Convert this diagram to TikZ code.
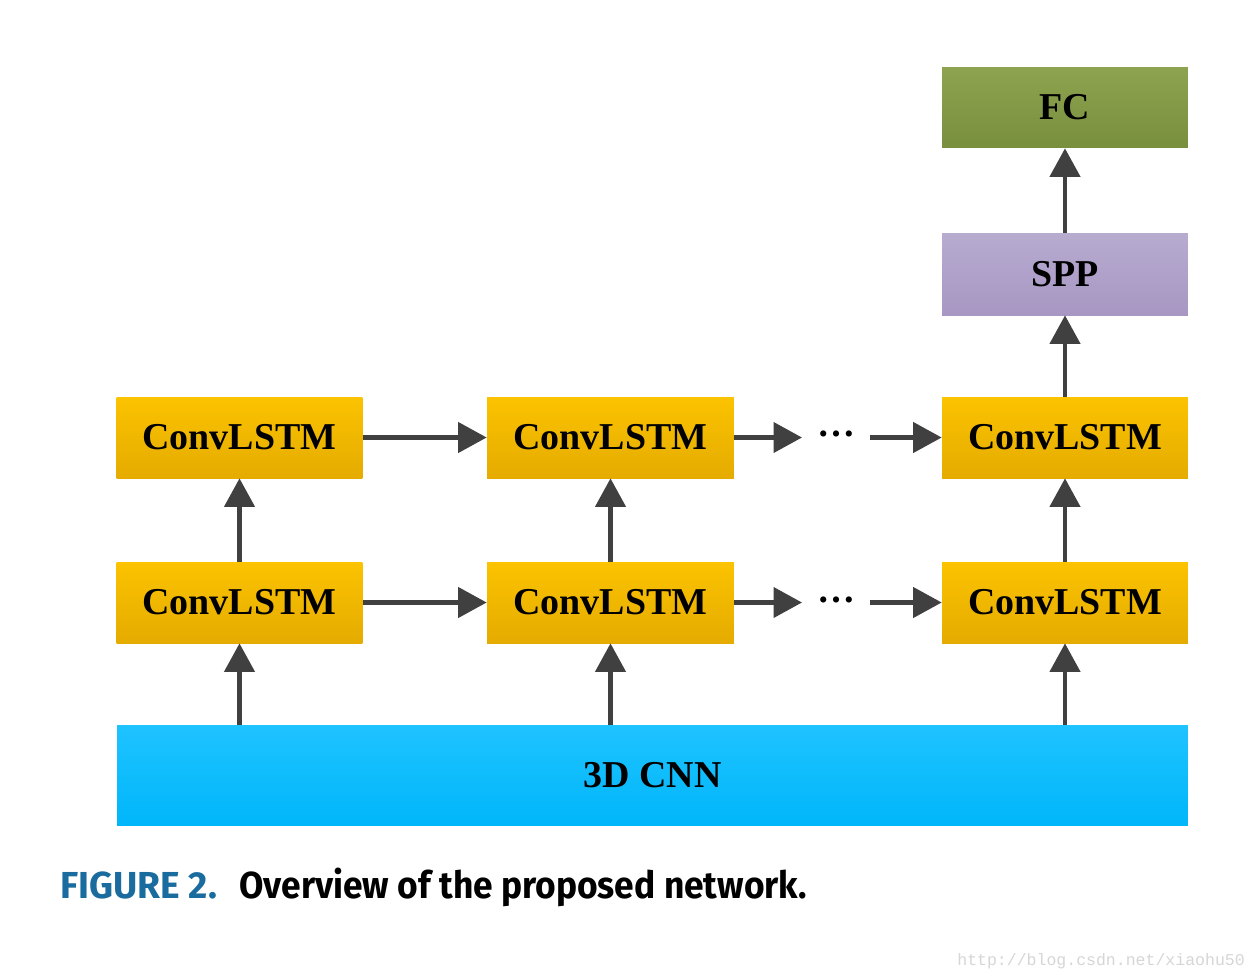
\documentclass[tikz,border=0pt]{standalone}
\usepackage{fontspec}
\setmainfont{Liberation Serif}
\newfontfamily\capfont{Fira Sans}
\newfontfamily\wmfont{Liberation Mono}
\usetikzlibrary{arrows.meta}
\definecolor{arrcol}{HTML}{404040}
\definecolor{lstmtop}{HTML}{FBC300}
\definecolor{lstmbot}{HTML}{E5AB00}
\definecolor{cnntop}{HTML}{1EC3FF}
\definecolor{cnnbot}{HTML}{00B6FA}
\definecolor{fctop}{HTML}{8EA34F}
\definecolor{fcbot}{HTML}{788F3E}
\definecolor{spptop}{HTML}{B7ABD0}
\definecolor{sppbot}{HTML}{A797C2}
\definecolor{capblue}{HTML}{1B6C9E}
\tikzset{
  blockbox/.style={draw=none, inner sep=0pt, minimum height=1.62cm, minimum width=4.92cm,
    font=\fontsize{21.6}{26}\selectfont\bfseries, text=black},
  lstm/.style={blockbox, top color=lstmtop, bottom color=lstmbot},
  arr/.style={draw=arrcol, line width=2.4pt, -{Triangle[length=0.57cm,width=0.6cm]}},
  dotsnode/.style={inner sep=0pt, anchor=base, font=\fontsize{21.6}{26}\selectfont\bfseries}
}
\begin{document}
\begin{tikzpicture}[x=0.02cm, y=-0.02cm]
\useasboundingbox[fill=white] (0,0) rectangle (1258,978);
% top blocks
\node[blockbox, top color=fctop, bottom color=fcbot, minimum height=1.62cm] (fc) at (1065,107.5) {FC};
\node[blockbox, top color=spptop, bottom color=sppbot, minimum height=1.64cm] (spp) at (1065,274) {SPP};
% ConvLSTM rows
\node[lstm] (a1) at (239.5,437.5) {ConvLSTM};
\node[lstm, minimum width=4.94cm] (a2) at (610.5,437.5) {ConvLSTM};
\node[lstm] (a3) at (1065,437.5) {ConvLSTM};
\node[lstm] (b1) at (239.5,602.5) {ConvLSTM};
\node[lstm, minimum width=4.94cm] (b2) at (610.5,602.5) {ConvLSTM};
\node[lstm] (b3) at (1065,602.5) {ConvLSTM};
% 3D CNN
\node[blockbox, top color=cnntop, bottom color=cnnbot, minimum width=21.42cm, minimum height=2cm] (cnn) at (652.5,775) {3D CNN};
% dots
\node[dotsnode] (d1) at (836,436.5) {…};
\node[dotsnode] (d2) at (836,602.5) {…};
\coordinate (d1l) at (802,437.5);
\coordinate (d1r) at (870,437.5);
\coordinate (d2l) at (802,602.5);
\coordinate (d2r) at (870,602.5);
% horizontal arrows
\draw[arr] (a1.east) -- (a2.west);
\draw[arr] (a2.east) -- (d1l);
\draw[arr] (d1r) -- (a3.west);
\draw[arr] (b1.east) -- (b2.west);
\draw[arr] (b2.east) -- (d2l);
\draw[arr] (d2r) -- (b3.west);
% vertical arrows
\draw[arr] (b1 |- cnn.north) -- (b1.south);
\draw[arr] (b2 |- cnn.north) -- (b2.south);
\draw[arr] (b3 |- cnn.north) -- (b3.south);
\draw[arr] (b1.north) -- (a1.south);
\draw[arr] (b2.north) -- (a2.south);
\draw[arr] (b3.north) -- (a3.south);
\draw[arr] (a3.north) -- (spp.south);
\draw[arr] (spp.north) -- (fc.south);
% caption
\node[anchor=base west, inner sep=0pt, text=capblue, font=\capfont\bfseries\fontsize{21.4}{26}\selectfont] (capnum) at (60,898) {\scalebox{0.99}[1]{FIGURE 2.}};
\node[anchor=base west, inner sep=0pt, text=black, font=\capfont\bfseries\fontsize{21.4}{26}\selectfont] (captext) at (239,898) {\scalebox{0.94}[1]{Overview of the proposed network.}};
% watermark
\node[anchor=base west, inner sep=0pt, text=black!16, font=\wmfont\fontsize{9.4}{11}\selectfont] (wm) at (957,965) {http://blog.csdn.net/xiaohu50};
\end{tikzpicture}
\end{document}
